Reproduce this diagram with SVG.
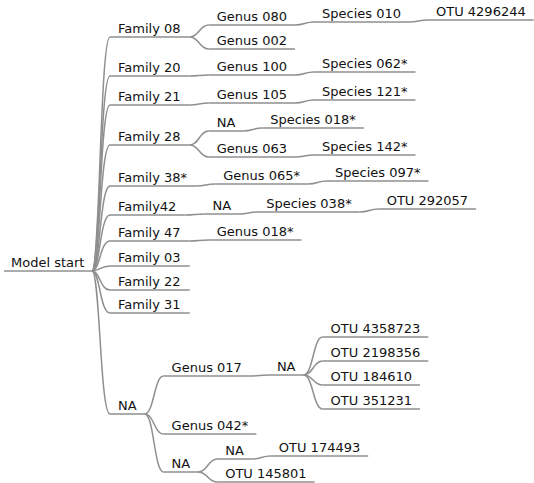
<svg xmlns="http://www.w3.org/2000/svg" width="534" height="483" viewBox="0 0 534 483">
<style>
  .u { stroke: #8f8f8f; stroke-width: 1.5; fill: none; }
  .c { stroke: #8f8f8f; stroke-width: 1.5; fill: none; }
  text { font-family: "DejaVu Sans", Verdana, sans-serif; font-size: 13px; fill: #111111; }
</style>
<rect width="534" height="483" fill="#ffffff"/>
<g id="connectors">
  <path class="c" d="M92,271 C100,271 100,37 110,37"/>
  <path class="c" d="M92,271 C100,271 100,76 110,76"/>
  <path class="c" d="M92,271 C100,271 100,105 110,105"/>
  <path class="c" d="M92,271 C100,271 100,145 110,145"/>
  <path class="c" d="M92,271 C100,271 100,186 110,186"/>
  <path class="c" d="M92,271 C100,271 100,215 110,215"/>
  <path class="c" d="M92,271 C100,271 100,241 110,241"/>
  <path class="c" d="M92,271 C100,271 100,266 110,266"/>
  <path class="c" d="M92,271 C100,271 100,290 110,290"/>
  <path class="c" d="M92,271 C100,271 100,313 110,313"/>
  <path class="c" d="M92,271 C100,271 100,414 110,414"/>
  <path class="c" d="M189.7,37 C199.2,37 199.2,25 208.7,25"/>
  <path class="c" d="M189.7,37 C199.2,37 199.2,49 208.7,49"/>
  <path class="c" d="M295,25 C304.5,25 304.5,22 314,22"/>
  <path class="c" d="M409,22 C418.5,22 418.5,20 428,20"/>
  <path class="c" d="M189.7,76 C199.2,76 199.2,75 208.7,75"/>
  <path class="c" d="M295,75 C304.5,75 304.5,72 314,72"/>
  <path class="c" d="M189.7,105 C199.2,105 199.2,103 208.7,103"/>
  <path class="c" d="M295,103 C304.5,103 304.5,100 314,100"/>
  <path class="c" d="M189.7,145 C199.2,145 199.2,131 208.7,131"/>
  <path class="c" d="M189.7,145 C199.2,145 199.2,157 208.7,157"/>
  <path class="c" d="M243.3,131 C252.8,131 252.8,128 262.3,128"/>
  <path class="c" d="M295,157 C304.5,157 304.5,155 314,155"/>
  <path class="c" d="M196.2,186 C205.7,186 205.7,184 215.2,184"/>
  <path class="c" d="M308,184 C317.5,184 317.5,181 327,181"/>
  <path class="c" d="M185.6,215 C195.1,215 195.1,214 204.6,214"/>
  <path class="c" d="M239.2,214 C248.7,214 248.7,212 258.2,212"/>
  <path class="c" d="M359.7,212 C369.2,212 369.2,209 378.7,209"/>
  <path class="c" d="M189.7,241 C199.2,241 199.2,240 208.7,240"/>
  <path class="c" d="M144.6,414 C154.1,414 154.1,376 163.6,376"/>
  <path class="c" d="M144.6,414 C154.1,414 154.1,434 163.6,434"/>
  <path class="c" d="M144.6,414 C154.1,414 154.1,472 163.6,472"/>
  <path class="c" d="M249.9,376 C259.4,376 259.4,375 268.9,375"/>
  <path class="c" d="M303.6,375 C313.1,375 313.1,337 322.6,337"/>
  <path class="c" d="M303.6,375 C313.1,375 313.1,361 322.6,361"/>
  <path class="c" d="M303.6,375 C313.1,375 313.1,385 322.6,385"/>
  <path class="c" d="M303.6,375 C313.1,375 313.1,409 322.6,409"/>
  <path class="c" d="M198.2,472 C207.7,472 207.7,459 217.2,459"/>
  <path class="c" d="M198.2,472 C207.7,472 207.7,482 217.2,482"/>
  <path class="c" d="M251.8,459 C261.3,459 261.3,456 270.8,456"/>
</g>
<g id="root"><path class="u" d="M4,271 H92"/><text x="11" y="267">Model start</text></g>
<g id="f08"><path class="u" d="M110,37 H189.7"/><text x="118" y="33">Family 08</text></g>
<g id="g080"><path class="u" d="M208.7,25 H295"/><text x="216.7" y="21">Genus 080</text></g>
<g id="s010"><path class="u" d="M314,22 H409"/><text x="322" y="18">Species 010</text></g>
<g id="otu4296244"><path class="u" d="M428,20 H533.7"/><text x="436" y="16">OTU 4296244</text></g>
<g id="g002"><path class="u" d="M208.7,49 H295"/><text x="216.7" y="45">Genus 002</text></g>
<g id="f20"><path class="u" d="M110,76 H189.7"/><text x="118" y="72">Family 20</text></g>
<g id="g100"><path class="u" d="M208.7,75 H295"/><text x="216.7" y="71">Genus 100</text></g>
<g id="s062"><path class="u" d="M314,72 H415.5"/><text x="322" y="68">Species 062*</text></g>
<g id="f21"><path class="u" d="M110,105 H189.7"/><text x="118" y="101">Family 21</text></g>
<g id="g105"><path class="u" d="M208.7,103 H295"/><text x="216.7" y="99">Genus 105</text></g>
<g id="s121"><path class="u" d="M314,100 H415.5"/><text x="322" y="96">Species 121*</text></g>
<g id="f28"><path class="u" d="M110,145 H189.7"/><text x="118" y="141">Family 28</text></g>
<g id="na28"><path class="u" d="M208.7,131 H243.3"/><text x="216.7" y="127">NA</text></g>
<g id="s018"><path class="u" d="M262.3,128 H363.8"/><text x="270.3" y="124">Species 018*</text></g>
<g id="g063"><path class="u" d="M208.7,157 H295"/><text x="216.7" y="153">Genus 063</text></g>
<g id="s142"><path class="u" d="M314,155 H415.5"/><text x="322" y="151">Species 142*</text></g>
<g id="f38"><path class="u" d="M110,186 H196.2"/><text x="118" y="182">Family 38*</text></g>
<g id="g065"><path class="u" d="M215.2,184 H308"/><text x="223.2" y="180">Genus 065*</text></g>
<g id="s097"><path class="u" d="M327,181 H428.5"/><text x="335" y="177">Species 097*</text></g>
<g id="f42"><path class="u" d="M110,215 H185.6"/><text x="118" y="211">Family42</text></g>
<g id="na42"><path class="u" d="M204.6,214 H239.2"/><text x="212.6" y="210">NA</text></g>
<g id="s038"><path class="u" d="M258.2,212 H359.7"/><text x="266.2" y="208">Species 038*</text></g>
<g id="otu292057"><path class="u" d="M378.7,209 H476.1"/><text x="386.7" y="205">OTU 292057</text></g>
<g id="f47"><path class="u" d="M110,241 H189.7"/><text x="118" y="237">Family 47</text></g>
<g id="g018"><path class="u" d="M208.7,240 H301.5"/><text x="216.7" y="236">Genus 018*</text></g>
<g id="f03"><path class="u" d="M110,266 H189.7"/><text x="118" y="262">Family 03</text></g>
<g id="f22"><path class="u" d="M110,290 H189.7"/><text x="118" y="286">Family 22</text></g>
<g id="f31"><path class="u" d="M110,313 H189.7"/><text x="118" y="309">Family 31</text></g>
<g id="naf"><path class="u" d="M110,414 H144.6"/><text x="118" y="410">NA</text></g>
<g id="g017"><path class="u" d="M163.6,376 H249.9"/><text x="171.6" y="372">Genus 017</text></g>
<g id="na017"><path class="u" d="M268.9,375 H303.6"/><text x="276.9" y="371">NA</text></g>
<g id="otu4358723"><path class="u" d="M322.6,337 H428.3"/><text x="330.6" y="333">OTU 4358723</text></g>
<g id="otu2198356"><path class="u" d="M322.6,361 H428.3"/><text x="330.6" y="357">OTU 2198356</text></g>
<g id="otu184610"><path class="u" d="M322.6,385 H420"/><text x="330.6" y="381">OTU 184610</text></g>
<g id="otu351231"><path class="u" d="M322.6,409 H420"/><text x="330.6" y="405">OTU 351231</text></g>
<g id="g042"><path class="u" d="M163.6,434 H256.4"/><text x="171.6" y="430">Genus 042*</text></g>
<g id="na3"><path class="u" d="M163.6,472 H198.2"/><text x="171.6" y="468">NA</text></g>
<g id="na4"><path class="u" d="M217.2,459 H251.8"/><text x="225.2" y="455">NA</text></g>
<g id="otu174493"><path class="u" d="M270.8,456 H368.2"/><text x="278.8" y="452">OTU 174493</text></g>
<g id="otu145801"><path class="u" d="M217.2,482 H314.6"/><text x="225.2" y="478">OTU 145801</text></g>
</svg>
